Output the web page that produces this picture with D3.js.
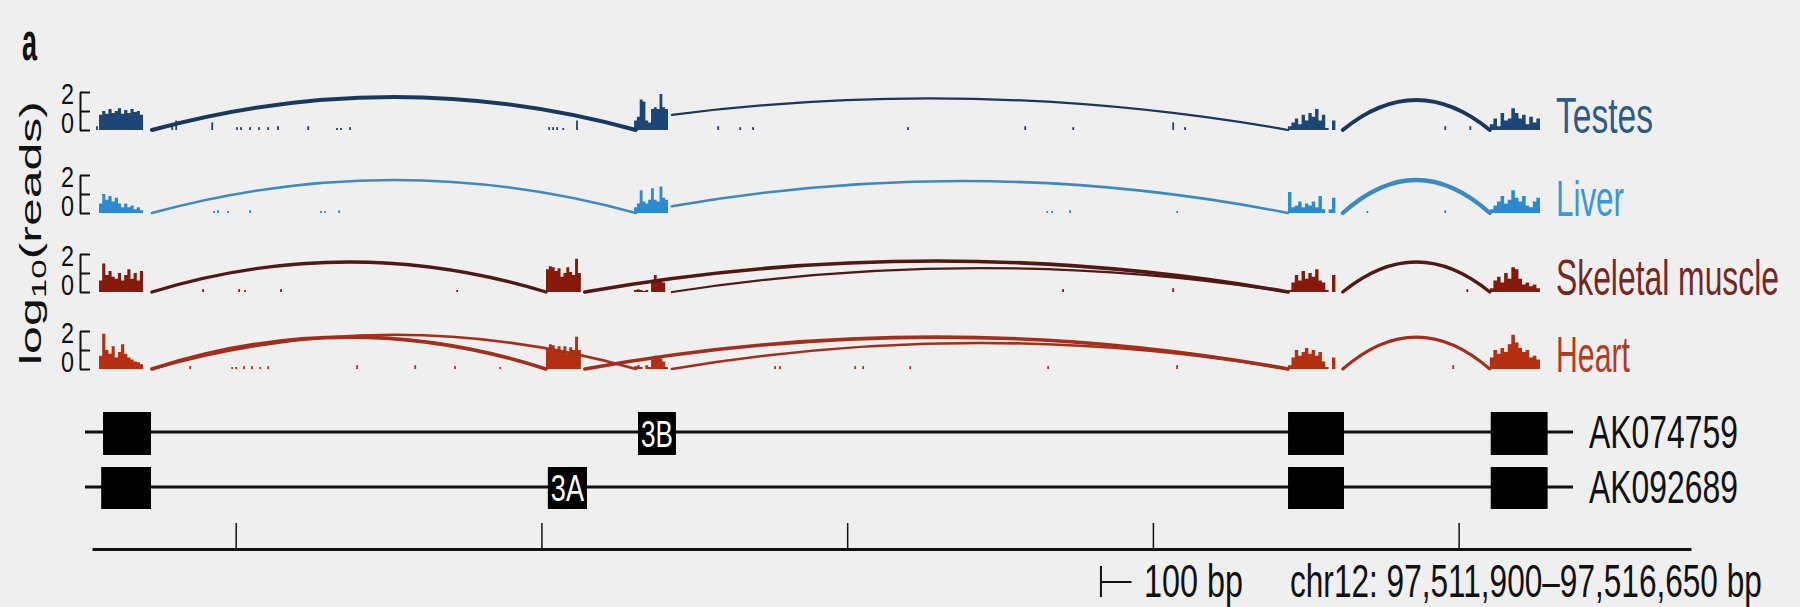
<!DOCTYPE html>
<html><head><meta charset="utf-8">
<script src="https://cdn.jsdelivr.net/npm/d3@7"></script>
<style>html,body{margin:0;padding:0;background:#efefef;}svg{display:block;}text{font-family:"Liberation Sans",Arial,sans-serif;}</style>
</head><body>
<svg id="c" width="1800" height="607"></svg>
<script>
// ---------- DATA ----------
const tissues = ["Testes", "Liver", "Skeletal muscle", "Heart"];
const region = [97511530, 97516760];
const axisTicks = [97512000, 97513000, 97514000, 97515000, 97516000];
const yTicks = [0, 1, 2];
const yTickLabels = ["0", "2"];
// exon coverage extents (bp): E1, 3A, 3B, E4, E5
const exonNames = ["1", "3A", "3B", "4", "5"];
const exonStarts = [97511553, 97513015, 97513303, 97515442, 97516102];
const exonEnds   = [97511697, 97513129, 97513414, 97515608, 97516266];
// coverage, log10(reads), per exon
const covTestes = [
  [0.8,1.0,0.85,1.1,0.9,1.0,1.15,0.85,1.05,0.9,1.1,0.95,1.0,0.8],
  [],
  [0.5,0.7,1.6,1.5,0.5,0.4,1.1,1.2,1.1,1.9,1.2,1.1],
  [0.2,0.4,0.6,0.3,0.8,0.5,0.9,0.7,1.1,0.5,0.8,0.1,0,0.5,0],
  [0.3,0.6,0.2,0.9,0.5,0.6,1.15,0.9,0.6,0.8,0.3,0.7,0.4,0.6]
];
const covLiver = [
  [0.5,1.0,0.7,0.9,0.6,0.8,0.5,0.3,0.5,0.3,0.4,0.2,0.3,0.15],
  [],
  [0.3,0.5,1.2,0.6,0.5,0.7,1.3,0.7,0.6,1.4,0.8,0.7],
  [1.1,0.3,0.4,0.6,0.3,0.5,0.4,0.6,0.3,0.9,0.2,0,0.2,0.8,0],
  [0.2,0.4,0.6,0.9,0.5,0.7,1.2,0.8,0.6,0.9,0.4,0.3,0.6,0.8]
];
const covSkeletal = [
  [0.6,1.5,0.9,1.1,0.8,0.7,1.0,0.6,0.9,1.2,0.7,1.0,0.6,1.1],
  [1.2,1.35,1.3,1.1,1.25,0.8,1.0,1.3,1.05,0.9,1.75,1.0],
  [0.1,0.15,0.1,0.05,0.1,0,0.6,0.9,0.6,0.7,0.5,0],
  [0.1,0.5,0.9,0.6,1.1,0.7,1.0,0.8,1.2,0.6,0.5,0.1,0,0.9,0],
  [0.2,0.6,0.8,0.5,1.0,0.7,1.3,1.2,0.7,0.4,0.5,0.3,0.4,0.2]
];
const covHeart = [
  [0.7,1.85,1.0,0.8,1.2,0.6,0.9,1.3,0.8,0.6,0.5,0.4,0.35,0.25],
  [1.1,1.3,1.25,1.05,1.2,0.9,1.2,0.8,1.15,1.0,1.7,1.0],
  [0.15,0.2,0.1,0,0.2,0.1,0.5,0.7,0.6,0.55,0.4,0.1],
  [0.2,0.6,1.0,0.7,0.9,1.1,0.8,1.0,0.7,0.9,0.4,0.1,0,0.6,0],
  [0.6,1.0,0.8,1.1,0.9,1.3,1.8,1.4,1.1,0.9,1.0,0.6,0.7,0.5]
];
// intronic reads [bp, log10(reads)]
const readsTestes = [[97511546,0.2],[97511792,0.3],[97511805,0.5],[97511923,0.4],[97512004,0.15],[97512017,0.15],[97512047,0.15],[97512076,0.15],[97512106,0.15],[97512138,0.2],[97512237,0.2],[97512331,0.1],[97512344,0.1],[97512374,0.15],[97513025,0.15],[97513038,0.15],[97513051,0.15],[97513071,0.1],[97513116,0.5],[97513578,0.2],[97513650,0.15],[97513692,0.15],[97514199,0.15],[97514582,0.2],[97514739,0.15],[97515066,0.4],[97515105,0.15],[97515956,0.2],[97516038,0.2]];
const readsLiver = [[97511929,0.1],[97511942,0.15],[97511975,0.1],[97512047,0.15],[97512279,0.1],[97512292,0.1],[97512338,0.15],[97514654,0.1],[97514670,0.1],[97514729,0.15],[97515079,0.1],[97515701,0.1],[97515956,0.15]];
const readsSkeletal = [[97511893,0.15],[97512011,0.15],[97512030,0.1],[97512148,0.15],[97512724,0.1],[97514706,0.15],[97515066,0.2],[97516028,0.15]];
const readsHeart = [[97511851,0.15],[97511988,0.1],[97512001,0.1],[97512027,0.15],[97512053,0.15],[97512080,0.1],[97512106,0.15],[97512397,0.2],[97512587,0.2],[97512717,0.15],[97512865,0.1],[97513453,0.1],[97513764,0.15],[97513780,0.15],[97514026,0.15],[97514052,0.15],[97514206,0.15],[97514657,0.15],[97515079,0.2],[97515982,0.2]];
// junctions [donor bp, acceptor bp, start log, end log, apex log, reads]
const juncTestes = [[97511726,97513309,0,0,1.74,90],[97513427,97515442,0.8,0,1.63,35],[97515621,97516102,0,0,1.58,90]];
const juncLiver = [[97511726,97513309,0,0,1.74,45],[97513427,97515442,0.35,0,1.68,45],[97515621,97516102,0,0,1.74,100]];
const juncSkeletal = [[97511726,97513015,0,0,1.58,70],[97513142,97515442,0,0,1.63,80],[97513427,97515442,0,0,1.26,35],[97515621,97516102,0,0,1.58,70]];
const juncHeart = [[97511726,97513015,0,0,1.68,80],[97511726,97513309,0,0,1.8,45],[97513142,97515442,0,0,1.68,80],[97513427,97515442,0,0,1.37,45],[97515621,97516102,0,0,1.68,60]];
// transcripts
const transcripts = ["AK074759", "AK092689"];
const txStart = [97511507, 97511507];
const txEnd = [97516374, 97516374];
const txExonStarts = [[97511566,97513316,97515442,97516105],[97511560,97513021,97515442,97516105]];
const txExonEnds   = [[97511723,97513440,97515625,97516291],[97511723,97513149,97515625,97516291]];
const txExonLabels = [["","3B","",""],["","3A","",""]];
const scaleBarStart = 97514830, scaleBarLen = 100;
const regionLabel = "chr12: 97,511,900\u201397,516,650 bp";

// ---------- DRAW ----------
const covAll = [covTestes, covLiver, covSkeletal, covHeart];
const readsAll = [readsTestes, readsLiver, readsSkeletal, readsHeart];
const juncAll = [juncTestes, juncLiver, juncSkeletal, juncHeart];
const covColors = ["#1b4675", "#2c8bd0", "#861a0a", "#b32f10"];
const arcColors = ["#183860", "#3a8ac4", "#521812", "#a32e19"];
const labelColors = ["#2c5b88", "#3a97da", "#74291e", "#b43b1e"];
const labelLens = [97, 68, 223, 74];
const zeroY = [130, 213, 292, 369];
const unitPx = 19;

const svg = d3.select("#c");
svg.append("rect").attr("width", 1800).attr("height", 607).attr("fill", "#efefef");
const x = d3.scaleLinear().domain(region).range([92, 1691]);
const widthScale = d3.scaleLinear().domain([0, 100]).range([1.2, 4.2]);

// condensed-looking text: font size chosen to fit the width, stretched vertically to the glyph height
function ctext(parent, str, tx, ty, glyphH, width, opt) {
  opt = opt || {};
  const hr = opt.hr || 0.716;
  const t = parent.append("text").attr("text-anchor", opt.anchor || "start")
    .attr("fill", opt.fill || "#111").attr("font-weight", opt.weight || "normal")
    .style("font-size", "100px").text(str);
  const w100 = t.node().getComputedTextLength();
  const f = width * 100 / w100;
  const sy = glyphH / (hr * f);
  t.style("font-size", f + "px").attr("transform", `translate(${tx},${ty}) scale(1,${sy})`);
  return t;
}

ctext(svg, "a", 22, 60, 27, 15, {weight: "bold", hr: 0.53});

const yt = svg.append("text").attr("transform", "translate(41,233) scale(0.6,1) rotate(-90)")
  .attr("text-anchor", "middle").style("font-size", "50px").attr("fill", "#111");
yt.append("tspan").text("log");
yt.append("tspan").style("font-size", "35px").attr("dy", 9).text("10");
yt.append("tspan").attr("dy", -9).text("(reads)");

tissues.forEach((t, i) => {
  const y = d3.scaleLinear().domain([0, 2]).range([zeroY[i], zeroY[i] - 2 * unitPx]);
  const g = svg.append("g");
  const ax = g.append("g").attr("transform", "translate(80,0)")
    .call(d3.axisRight(y).tickValues(yTicks).tickSize(10).tickSizeOuter(0).tickFormat(""));
  ax.select(".domain").attr("stroke", "#111").attr("stroke-width", 2);
  ax.selectAll(".tick line").attr("stroke", "#111").attr("stroke-width", 2);
  g.append("text").attr("x", 74).attr("y", y(0) + 3).attr("text-anchor", "end")
    .style("font-size", "29px").attr("textLength", 13).attr("lengthAdjust", "spacingAndGlyphs")
    .attr("fill", "#111").text(yTickLabels[0]);
  g.append("text").attr("x", 74).attr("y", y(0) - 26).attr("text-anchor", "end")
    .style("font-size", "29px").attr("textLength", 13).attr("lengthAdjust", "spacingAndGlyphs")
    .attr("fill", "#111").text(yTickLabels[1]);

  // coverage
  const area = d3.area().x(d => x(d[0])).y0(y(0)).y1(d => y(d[1])).curve(d3.curveStepAfter);
  covAll[i].forEach((vals, j) => {
    if (!vals.length) return;
    const bin = d3.scaleLinear().domain([0, vals.length]).range([exonStarts[j], exonEnds[j]]);
    const pts = vals.map((v, k) => [bin(k), v]);
    pts.push([bin(vals.length), vals[vals.length - 1]]);
    g.append("path").attr("d", area(pts)).attr("fill", covColors[i]);
  });
  // intronic reads
  g.selectAll(".rd").data(readsAll[i]).enter().append("rect")
    .attr("x", d => x(d[0]) - 0.8).attr("width", 1.8)
    .attr("y", d => Math.min(y(d[1]), y(0) - 2)).attr("height", d => Math.max(2, y(0) - y(d[1])))
    .attr("fill", covColors[i]);
  // junction arcs
  juncAll[i].forEach(j => {
    const x1 = x(j[0]), x2 = x(j[1]), y1 = y(j[2]), y2 = y(j[3]), ya = y(j[4]);
    const cy = 2 * ya - (y1 + y2) / 2;
    const p = d3.path();
    p.moveTo(x1, y1); p.quadraticCurveTo((x1 + x2) / 2, cy, x2, y2);
    g.append("path").attr("d", p.toString()).attr("fill", "none")
      .attr("stroke", arcColors[i]).attr("stroke-width", widthScale(j[5])).attr("stroke-linecap", "round");
  });
  // label
  ctext(g, t, 1556, zeroY[i] + 3, 36, labelLens[i], {fill: labelColors[i]});
});

// gene models
const txLineY = [432, 487];
const boxTop = [412, 467], boxH = [43, 42];
transcripts.forEach((name, k) => {
  const g = svg.append("g");
  g.append("line").attr("x1", x(txStart[k])).attr("x2", x(txEnd[k]))
    .attr("y1", txLineY[k]).attr("y2", txLineY[k]).attr("stroke", "#111").attr("stroke-width", 3);
  txExonStarts[k].forEach((s, e) => {
    const xs = x(s), xe = x(txExonEnds[k][e]);
    g.append("rect").attr("x", xs).attr("y", boxTop[k]).attr("width", xe - xs).attr("height", boxH[k]).attr("fill", "#000");
    if (txExonLabels[k][e]) {
      ctext(g, txExonLabels[k][e], (xs + xe) / 2, boxTop[k] + boxH[k] - 8, 26, xe - xs - 6, {anchor: "middle", fill: "#fff"});
    }
  });
  ctext(g, name, 1589, txLineY[k] + 16, 33, 149);
});

// genomic axis
const gax = svg.append("g").attr("transform", "translate(0,549)")
  .call(d3.axisTop(x).tickValues(axisTicks).tickSize(26).tickSizeOuter(0).tickFormat(""));
gax.select(".domain").attr("stroke", "#111").attr("stroke-width", 3);
gax.selectAll(".tick line").attr("stroke", "#111").attr("stroke-width", 1.5);

// scale bar
const sb = svg.append("g");
sb.append("line").attr("x1", x(scaleBarStart)).attr("x2", x(scaleBarStart + scaleBarLen))
  .attr("y1", 582).attr("y2", 582).attr("stroke", "#111").attr("stroke-width", 2);
sb.append("line").attr("x1", x(scaleBarStart)).attr("x2", x(scaleBarStart))
  .attr("y1", 566).attr("y2", 597).attr("stroke", "#111").attr("stroke-width", 2);
ctext(sb, scaleBarLen + " bp", 1144, 597, 33, 99);
ctext(svg, regionLabel, 1290, 597, 33, 472);
</script>
</body></html>
